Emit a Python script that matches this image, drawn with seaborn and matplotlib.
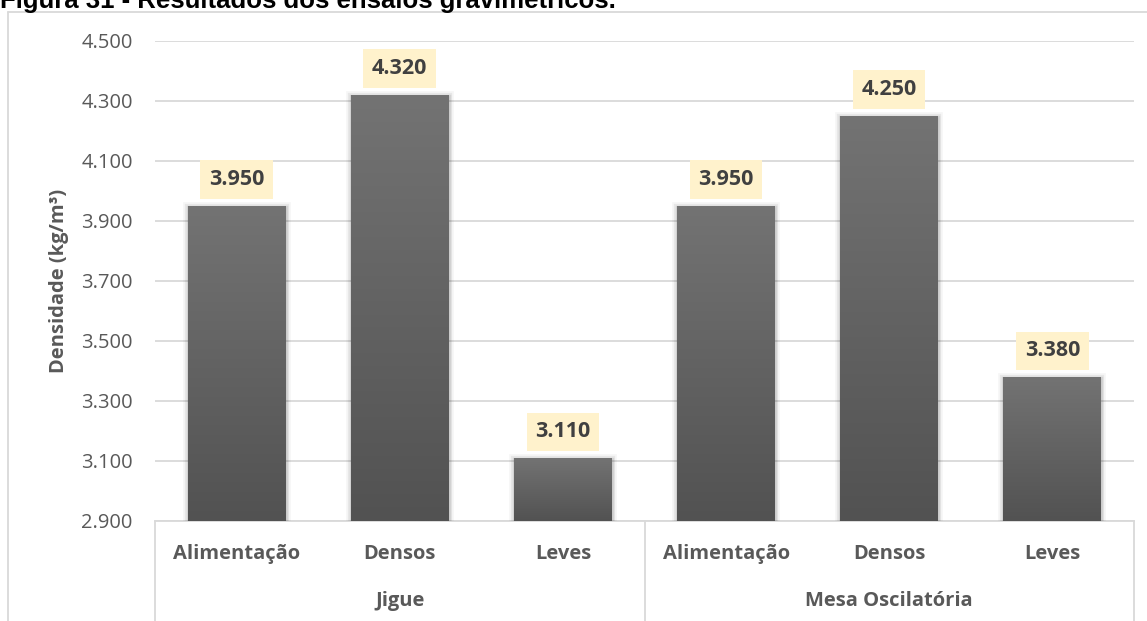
import numpy as np
import pandas as pd
import matplotlib
matplotlib.use("Agg")
import matplotlib.pyplot as plt
import matplotlib.patheffects as pe
from matplotlib.transforms import blended_transform_factory
import seaborn as sns

# Gravimetric test results
groups = ["Jigue", "Jigue", "Jigue", "Mesa Oscilatória", "Mesa Oscilatória", "Mesa Oscilatória"]
products = ["Alimentação", "Densos", "Leves", "Alimentação", "Densos", "Leves"]
densities = [3950, 4320, 3110, 3950, 4250, 3380]
group_names = ["Jigue", "Mesa Oscilatória"]
y_ticks = [2900, 3100, 3300, 3500, 3700, 3900, 4100, 4300, 4500]

df = pd.DataFrame({
    "slot": [f"{g}|{p}" for g, p in zip(groups, products)],
    "grupo": groups,
    "produto": products,
    "densidade": densities,
})

sns.set_theme(style="white")
plt.rcParams["font.family"] = ["Open Sans", "DejaVu Sans"]

W, H = 1147, 621
fig = plt.figure(figsize=(W / 100, H / 100), dpi=100)
ax = fig.add_axes([155 / W, 1 - 521 / H, (1134 - 155) / W, 480 / H])

sns.barplot(data=df, x="slot", y="densidade", color="#636363", width=0.6,
            saturation=1, ax=ax, zorder=3)

ymin, ymax = 2900, 4500
grad = np.linspace(0, 1, 256).reshape(-1, 1)
cmap = matplotlib.colors.LinearSegmentedColormap.from_list("bar", ["#525252", "#737373"])

shadow = [
    pe.Stroke(linewidth=7, foreground="black", alpha=0.035, offset=(0, -1)),
    pe.Stroke(linewidth=4.5, foreground="black", alpha=0.06, offset=(0, -1)),
    pe.Stroke(linewidth=2.5, foreground="black", alpha=0.09, offset=(0, -1)),
    pe.Normal(),
]
for patch, val in zip(ax.patches, densities):
    x0 = patch.get_x()
    w = patch.get_width()
    patch.set_path_effects(shadow)
    patch.set_edgecolor("none")
    im = ax.imshow(grad, extent=(x0, x0 + w, ymin, val), origin="lower",
                   aspect="auto", cmap=cmap, zorder=4)
    im.set_clip_path(patch)
    label = f"{val:,.0f}".replace(",", ".")
    ax.annotate(label, (x0 + w / 2, val), xytext=(0, 19), textcoords="offset points",
                ha="center", va="center", fontsize=15.5, fontweight="bold",
                color="#404040", zorder=6,
                bbox=dict(boxstyle="square,pad=0.4", fc="#FFF2CC", ec="none"))

ax.set_xlim(-0.5, len(products) - 0.5)
ax.set_ylim(ymin, ymax)
ax.set_yticks(y_ticks)
ax.set_yticklabels([f"{v:,.0f}".replace(",", ".") for v in y_ticks])
ax.tick_params(axis="y", length=0, pad=16, labelsize=14.5, labelcolor="#595959")
ax.yaxis.grid(True, color="#D9D9D9", linewidth=1.3, zorder=0)
ax.set_axisbelow(True)
ax.set_xticks([])
ax.set_xlabel("")
ax.set_ylabel("Densidade (kg/m³)", fontsize=14.5, fontweight="bold",
              color="#595959", labelpad=9)
for side in ["left", "right", "top"]:
    ax.spines[side].set_visible(False)
ax.spines["bottom"].set_color("#D9D9D9")
ax.spines["bottom"].set_linewidth(1.3)
ax.spines["bottom"].set_zorder(2)

# Two-level category axis
tr = blended_transform_factory(ax.transData, ax.transAxes)
px = 1 / 480
for i, p in enumerate(products):
    ax.text(i, -33 * px, p, transform=tr, ha="center", va="center",
            fontsize=14.5, fontweight="bold", color="#595959")
for k, g in enumerate(group_names):
    ax.text(3 * k + 1, -80 * px, g, transform=tr, ha="center", va="center",
            fontsize=14.5, fontweight="bold", color="#595959")
for xb in [-0.5, 2.5, 5.5]:
    ax.plot([xb, xb], [0, -110 * px], transform=tr, color="#D9D9D9",
            linewidth=1.3, clip_on=False, zorder=1)

# Chart frame and figure caption
fig.add_artist(plt.Line2D([8 / W, 8 / W], [0, 1 - 12 / H], color="#D9D9D9",
                          linewidth=1.3, transform=fig.transFigure))
fig.add_artist(plt.Line2D([8 / W, 1], [1 - 12 / H, 1 - 12 / H], color="#D9D9D9",
                          linewidth=1.3, transform=fig.transFigure))
fig.text(0, 1 - 8 / H, "Figura 31 - Resultados dos ensaios gravimétricos.",
         ha="left", va="baseline", fontsize=18.5, fontweight="bold",
         family=["Liberation Sans", "DejaVu Sans"], color="black")

fig.savefig("out.png", dpi=100, facecolor="white")
